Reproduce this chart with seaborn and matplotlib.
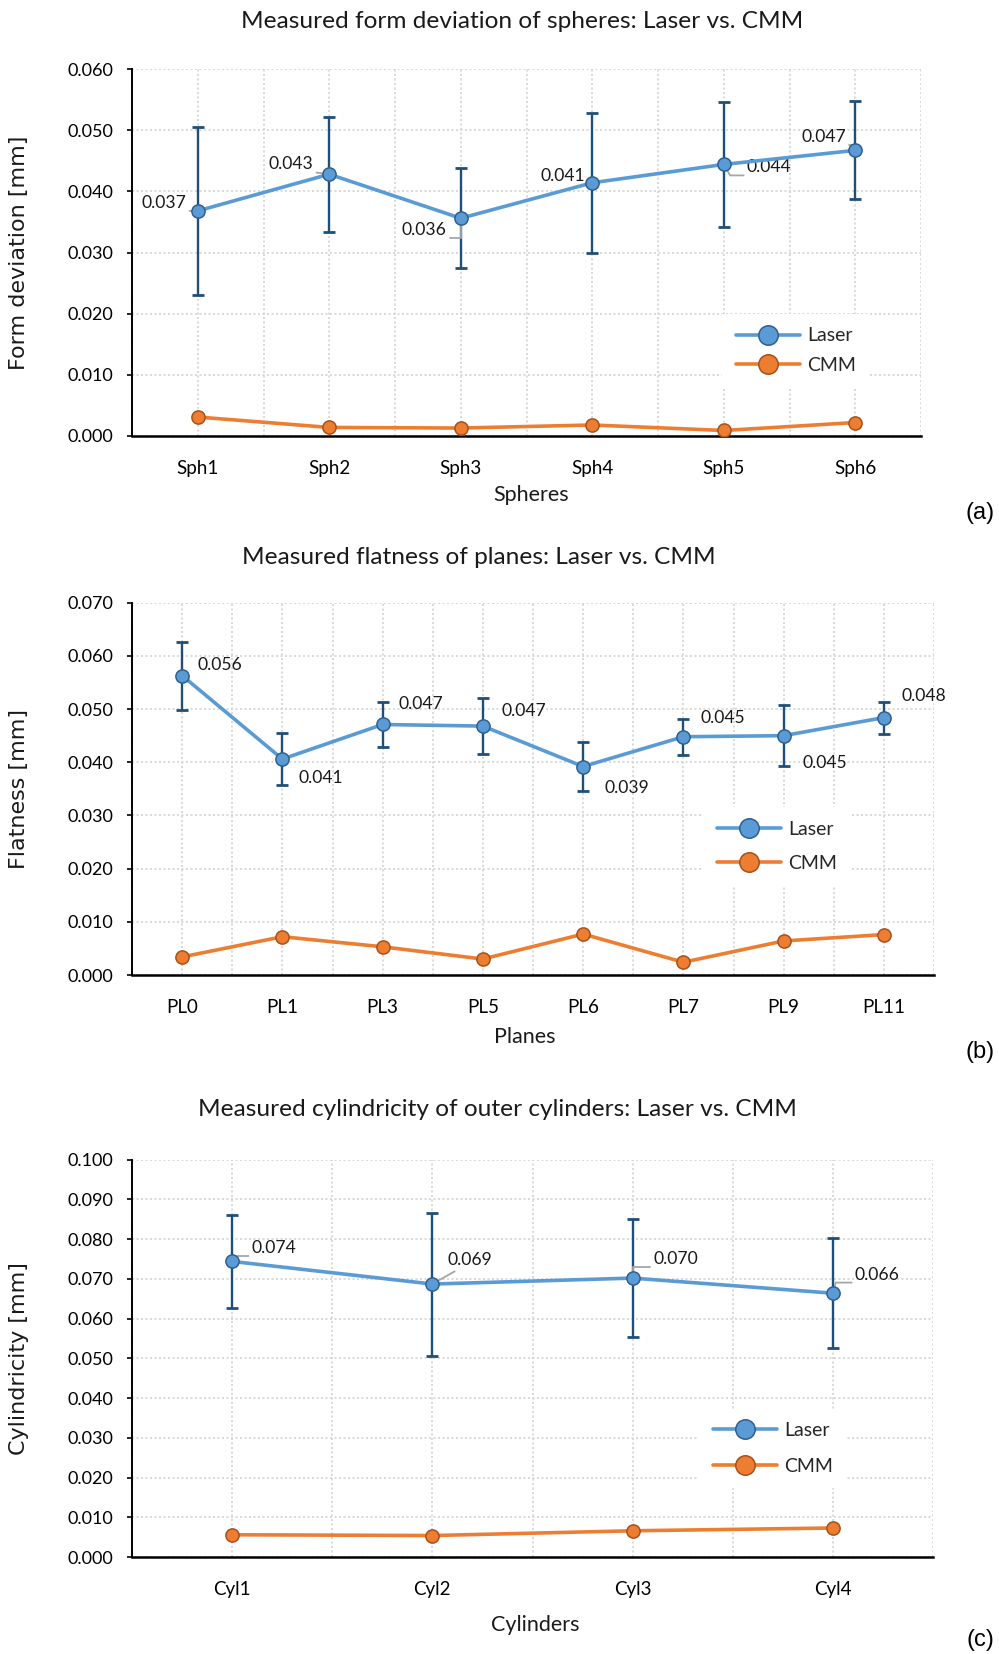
import numpy as np
import pandas as pd
import matplotlib
matplotlib.use("Agg")
import matplotlib.pyplot as plt
import seaborn as sns
from matplotlib.ticker import MultipleLocator, FormatStrFormatter

# ---------------- data ----------------
sph_cats = ["Sph1", "Sph2", "Sph3", "Sph4", "Sph5", "Sph6"]
sph_laser = [0.0368, 0.0428, 0.0356, 0.0414, 0.0444, 0.0467]
sph_laser_err = [0.0137, 0.0094, 0.0082, 0.0114, 0.0102, 0.0080]
sph_cmm = [0.0031, 0.0014, 0.0013, 0.0018, 0.0009, 0.0022]

pl_cats = ["PL0", "PL1", "PL3", "PL5", "PL6", "PL7", "PL9", "PL11"]
pl_laser = [0.0563, 0.0406, 0.0471, 0.0468, 0.0392, 0.0448, 0.0450, 0.0484]
pl_laser_err = [0.0064, 0.0049, 0.0043, 0.0053, 0.0046, 0.0034, 0.0057, 0.0030]
pl_cmm = [0.0034, 0.0072, 0.0053, 0.0030, 0.0077, 0.0024, 0.0064, 0.0076]

cyl_cats = ["Cyl1", "Cyl2", "Cyl3", "Cyl4"]
cyl_laser = [0.0744, 0.0687, 0.0702, 0.0664]
cyl_laser_err = [0.0118, 0.0180, 0.0148, 0.0139]
cyl_cmm = [0.0056, 0.0054, 0.0066, 0.0073]

series_names = ["Laser", "CMM"]

# ---------------- style ----------------
sns.set_style("white")
plt.rcParams["font.family"] = ["Lato", "DejaVu Sans"]

LASER = "#5b9bd5"
LASER_EDGE = "#2f5f8f"
ERR = "#1f4e79"
CMM = "#ed7d31"
CMM_EDGE = "#a5521b"
GRID = "#d3d3d3"
LEADER = "#a6a6a6"

W, H = 999, 1654
fig = plt.figure(figsize=(W / 100, H / 100), dpi=100)


def fx(px):
    return px / W


def fy(py):
    return 1 - py / H


panels = [
    dict(cats=sph_cats, laser=sph_laser, err=sph_laser_err, cmm=sph_cmm,
         box=(132, 69, 921, 436), ymax=0.060,
         title="Measured form deviation of spheres: Laser vs. CMM", title_xy=(522, 22),
         ylabel="Form deviation [mm]", xlabel="Spheres", xlabel_xy=(531, 495),
         tag="(a)", tag_xy=(980, 513),
         leg_center=(796, 350.5), leg_spacing=0.62,
         lab=[((-34, 8), (1, 0), None), ((-38.5, 10), (1, 0), None),
              ((-36.5, -12), (1, 0), "angle,angleA=0,angleB=90,rad=0"),
              ((-29.5, 7), (1, 0), None),
              ((45.5, -3), (0, 0), "angle,angleA=0,angleB=-60,rad=0"),
              ((-31.5, 13), (1, 0), "angle,angleA=0,angleB=90,rad=0")],
         leaders=True),
    dict(cats=pl_cats, laser=pl_laser, err=pl_laser_err, cmm=pl_cmm,
         box=(132, 602.7, 934, 975), ymax=0.070,
         title="Measured flatness of planes: Laser vs. CMM", title_xy=(479, 557),
         ylabel="Flatness [mm]", xlabel="Planes", xlabel_xy=(525, 1037),
         tag="(b)", tag_xy=(980, 1052),
         leg_center=(776.75, 846.25), leg_spacing=0.85,
         lab=[((38, 10.5), None, None), ((38.6, -18.7), None, None),
              ((38.5, 20.8), None, None), ((41, 15.2), None, None),
              ((44, -21.5), None, None), ((39, 18.7), None, None),
              ((41.5, -27.2), None, None), ((39.5, 21.1), None, None)],
         leaders=False),
    dict(cats=cyl_cats, laser=cyl_laser, err=cyl_laser_err, cmm=cyl_cmm,
         box=(132, 1159.7, 933, 1557), ymax=0.100,
         title="Measured cylindricity of outer cylinders: Laser vs. CMM", title_xy=(497, 1109),
         ylabel="Cylindricity [mm]", xlabel="Cylinders", xlabel_xy=(535, 1625),
         tag="(c)", tag_xy=(980, 1640),
         leg_center=(773, 1448.5), leg_spacing=0.95,
         lab=[((42, 13.4), (0, 0), "angle,angleA=0,angleB=45,rad=0"),
              ((37, 24), (0.3, 0), None),
              ((43, 18.7), (0, 0), "angle,angleA=0,angleB=90,rad=0"),
              ((44.5, 18.6), (0, 0), "angle,angleA=0,angleB=75,rad=0")],
         leaders=True),
]

for p in panels:
    l, t, r, b = p["box"]
    ax = fig.add_axes([fx(l), fy(b), fx(r - l), (b - t) / H])
    n = len(p["cats"])
    pos = np.arange(n)
    df = pd.DataFrame({"pos": pos, "cat": p["cats"], "Laser": p["laser"],
                       "err": p["err"], "CMM": p["cmm"]})

    # error bars
    ax.errorbar(df["pos"], df["Laser"], yerr=df["err"], fmt="none", ecolor=ERR,
                elinewidth=1.7, capsize=4.6, capthick=2.0, zorder=3)
    # lines
    sns.lineplot(data=df, x="pos", y="Laser", ax=ax, color=LASER, linewidth=2.6,
                 marker="o", markersize=9.5, markerfacecolor=LASER,
                 markeredgecolor=LASER_EDGE, markeredgewidth=1.1,
                 label="Laser", zorder=4, sort=False)
    sns.lineplot(data=df, x="pos", y="CMM", ax=ax, color=CMM, linewidth=2.6,
                 marker="o", markersize=9.5, markerfacecolor=CMM,
                 markeredgecolor=CMM_EDGE, markeredgewidth=1.1,
                 label="CMM", zorder=4, sort=False)

    # data labels
    for i, (off, relpos, conn) in enumerate(p["lab"]):
        kw = {}
        if p["leaders"]:
            ap = dict(arrowstyle="-", color=LEADER, lw=1.3, shrinkA=0, shrinkB=0,
                      relpos=relpos)
            if conn:
                ap["connectionstyle"] = conn
            kw["arrowprops"] = ap
        ax.annotate(f"{df['Laser'][i]:.3f}", xy=(df["pos"][i], df["Laser"][i]),
                    xytext=off, textcoords="offset pixels", ha="center", va="center",
                    fontsize=12.6, color="#1a1a1a", zorder=3.5, **kw)

    # axes styling
    ax.set_xlim(-0.5, n - 0.5)
    ax.set_ylim(0, p["ymax"])
    ax.set_xticks(pos)
    ax.set_xticklabels(p["cats"])
    ax.set_xticks(np.arange(n + 1) - 0.5, minor=True)
    ax.yaxis.set_major_locator(MultipleLocator(0.01))
    ax.yaxis.set_major_formatter(FormatStrFormatter("%.3f"))
    ax.tick_params(axis="y", which="major", direction="out", length=3.5, width=1.2,
                   color="black", pad=10, labelsize=13, labelcolor="black", left=True)
    ax.tick_params(axis="x", which="both", length=0, pad=17, labelsize=13.5,
                   labelcolor="black", bottom=True)
    ax.grid(True, which="both", color=GRID, linestyle=(0, (1.2, 1.5)), linewidth=1.2)
    ax.set_axisbelow(True)
    for s in ["top", "right"]:
        ax.spines[s].set_visible(False)
    ax.spines["left"].set_color("black")
    ax.spines["left"].set_linewidth(1.4)
    ax.spines["bottom"].set_color("black")
    ax.spines["bottom"].set_linewidth(1.8)
    ax.set_xlabel("")
    ax.set_ylabel("")

    # legend
    cx, cy = p["leg_center"]
    leg = ax.legend(loc="center",
                    bbox_to_anchor=((cx - l) / (r - l), (b - cy) / (b - t)),
                    frameon=True, facecolor="white", edgecolor="none", framealpha=1,
                    fancybox=False, fontsize=14, handlelength=3.3, handletextpad=0.35,
                    labelspacing=p["leg_spacing"], borderpad=0.7, borderaxespad=0)
    for h in leg.legend_handles:
        h.set_markersize(14)

    # texts
    fig.text(fx(p["title_xy"][0]), fy(p["title_xy"][1]), p["title"], ha="center",
             va="center", fontsize=17.6, color="#1a1a1a")
    fig.text(fx(19), fy((t + b) / 2), p["ylabel"], rotation=90, ha="center",
             va="center", fontsize=16, family=["DejaVu Sans"], color="#1a1a1a")
    fig.text(fx(p["xlabel_xy"][0]), fy(p["xlabel_xy"][1]), p["xlabel"], ha="center",
             va="center", fontsize=15.5, color="#1a1a1a")
    fig.text(fx(p["tag_xy"][0]), fy(p["tag_xy"][1]), p["tag"], ha="center",
             va="center", fontsize=17, family=["Liberation Sans", "DejaVu Sans"],
             color="black")

fig.savefig("out.png", dpi=100, facecolor="white")
